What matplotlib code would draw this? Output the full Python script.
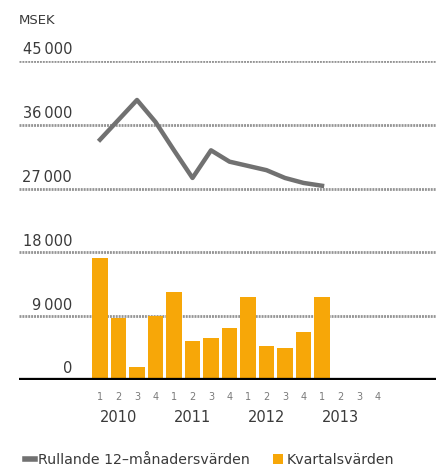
import numpy as np
import matplotlib
matplotlib.use('Agg')
import matplotlib.pyplot as plt
from matplotlib.lines import Line2D
from matplotlib.patches import Patch
import matplotlib.transforms as mtransforms

# data (MSEK)
quarters = ['1', '2', '3', '4'] * 4
years = ['2010', '2011', '2012', '2013']
kvartal = [17200, 8750, 1850, 9000, 12400, 5500, 5900, 7350, 11700, 4800, 4500, 6800, 11700]
rullande = [33900, 36700, 39500, 36400, 32400, 28500, 32400, 30800, 30200, 29600, 28500, 27800, 27400]
yticks = [0, 9000, 18000, 27000, 36000, 45000]
ylabels = ['0', '9\u2009000', '18\u2009000', '27\u2009000', '36\u2009000', '45\u2009000']

orange = '#f7a708'
grey = '#717171'
txt = '#3a3a3a'

plt.rcParams['font.family'] = ['DejaVu Sans']

W, H = 436, 468
fig = plt.figure(figsize=(W / 100, H / 100), dpi=100)
fig.set_facecolor('white')
# axes spans pixel x 19..436, y 61..380
ax = fig.add_axes([19 / W, (H - 380) / H, (W - 19) / W, 319 / H])
ax.set_axis_off()

step = 18.5
x0 = 100
ax.set_xlim((19 - x0) / step, (W - x0) / step)
ax.set_ylim(0, 45000)

xb = np.arange(len(kvartal))

for t in yticks[1:]:
    ax.axhline(t, color='#949494', lw=2.0, ls=(0, (0.7, 0.35)), zorder=1)

ax.bar(xb, kvartal, width=0.82, color=orange, zorder=2)
ax.plot(xb, rullande, color=grey, lw=3.2, solid_joinstyle='round', zorder=3)
ax.axhline(0, color='black', lw=3.8, zorder=4)

# y labels sit above the grid lines, right aligned
tr = mtransforms.blended_transform_factory(fig.transFigure, ax.transData)
for t, lab in zip(yticks, ylabels):
    ax.text(72 / W, t + 500, lab, transform=tr, ha='right', va='bottom',
            fontsize=10.5, color=txt)
fig.text(19 / W, 1 - 20 / H, 'MSEK', ha='left', va='center', fontsize=9.5, color=txt)

# quarter and year labels
trx = mtransforms.blended_transform_factory(ax.transData, fig.transFigure)
for i, q in enumerate(quarters):
    ax.text(i, 1 - 397 / H, q, transform=trx, ha='center', va='center',
            fontsize=7, color='#7a7a7a')
for j, yr in enumerate(years):
    ax.text(4 * j + 1, 1 - 418 / H, yr, transform=trx, ha='center', va='center',
            fontsize=10.5, color=txt)

handles = [Line2D([0], [0], color=grey, lw=4),
           Patch(facecolor=orange, edgecolor='none')]
fig.legend(handles, ['Rullande 12\u2013m\u00e5nadersv\u00e4rden', 'Kvartalsv\u00e4rden'],
           loc='center left', bbox_to_anchor=(12 / W, 1 - 460 / H), ncol=2,
           frameon=False, fontsize=10.2, handlelength=0.75, handleheight=0.75,
           handletextpad=0.2, columnspacing=1.6, labelcolor=txt)

fig.savefig('out.png', dpi=100, facecolor='white')
